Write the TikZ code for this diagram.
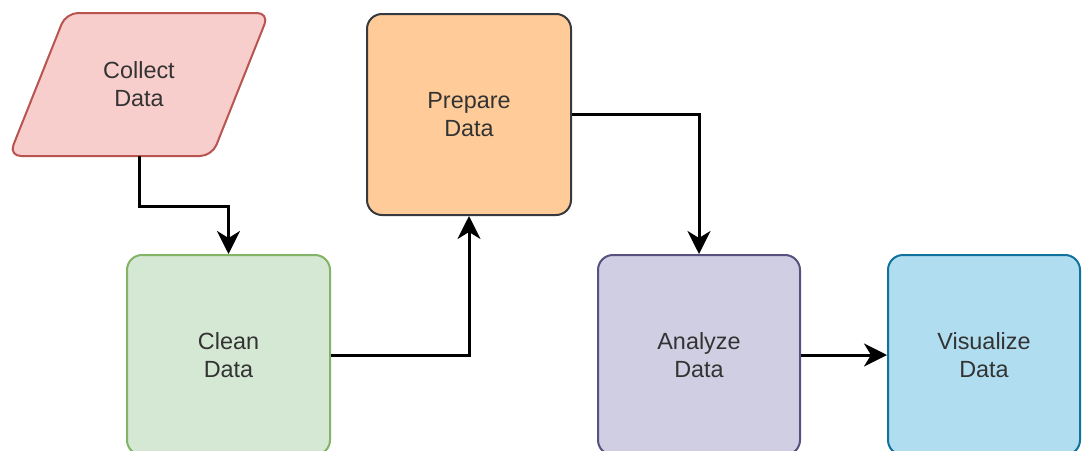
\documentclass[tikz,border=0pt]{standalone}
\usepackage{fontspec}
\setmainfont{Liberation Sans}
\usetikzlibrary{arrows.meta,backgrounds}
\definecolor{pinkfill}{HTML}{F8CECC}
\definecolor{pinkline}{HTML}{B85450}
\definecolor{greenfill}{HTML}{D5E8D4}
\definecolor{greenline}{HTML}{82B366}
\definecolor{orangefill}{HTML}{FFCC99}
\definecolor{orangeline}{HTML}{36393D}
\definecolor{purplefill}{HTML}{D0CEE2}
\definecolor{purpleline}{HTML}{56517E}
\definecolor{bluefill}{HTML}{B1DDF0}
\definecolor{blueline}{HTML}{10739E}
\definecolor{txt}{HTML}{333333}
\tikzset{
  box/.style={rectangle, rounded corners=15pt, line width=2pt, align=center,
    text=txt, font=\fontsize{23.4}{28}\selectfont, inner sep=0pt},
  flow/.style={line width=3pt, -{Stealth[length=23pt,width=23pt,inset=7pt]}},
}
\begin{document}
\begin{tikzpicture}[x=1pt,y=-1pt]
\useasboundingbox (0,0) rectangle (1082,450);
\clip (0,0) rectangle (1082,450);
\node[box, minimum width=258pt, minimum height=141pt] (collect) at (139,84.5) {Collect\\Data};
\begin{scope}[on background layer]
\fill[pinkfill, draw=pinkline, line width=2pt, rounded corners=12pt]
  (collect.south west) -- ([xshift=203pt]collect.south west) --
  (collect.north east) -- ([xshift=-203pt]collect.north east) -- cycle;
\end{scope}
\node[box, fill=greenfill, draw=greenline, minimum width=203pt, minimum height=200pt] (clean) at (228.5,355) {Clean\\Data};
\node[box, fill=orangefill, draw=orangeline, minimum width=204pt, minimum height=201pt] (prepare) at (469,114.5) {Prepare\\Data};
\node[box, fill=purplefill, draw=purpleline, minimum width=202pt, minimum height=200pt] (analyze) at (699,355) {Analyze\\Data};
\node[box, fill=bluefill, draw=blueline, minimum width=192pt, minimum height=200pt] (visualize) at (984,355) {Visualize\\Data};
\draw[flow] (collect.south) -- ++(0,50) -| (clean.north);
\draw[flow] (clean.east) -| (prepare.south);
\draw[flow] (prepare.east) -| (analyze.north);
\draw[flow] (analyze.east) -- (visualize.west);
\end{tikzpicture}
\end{document}
